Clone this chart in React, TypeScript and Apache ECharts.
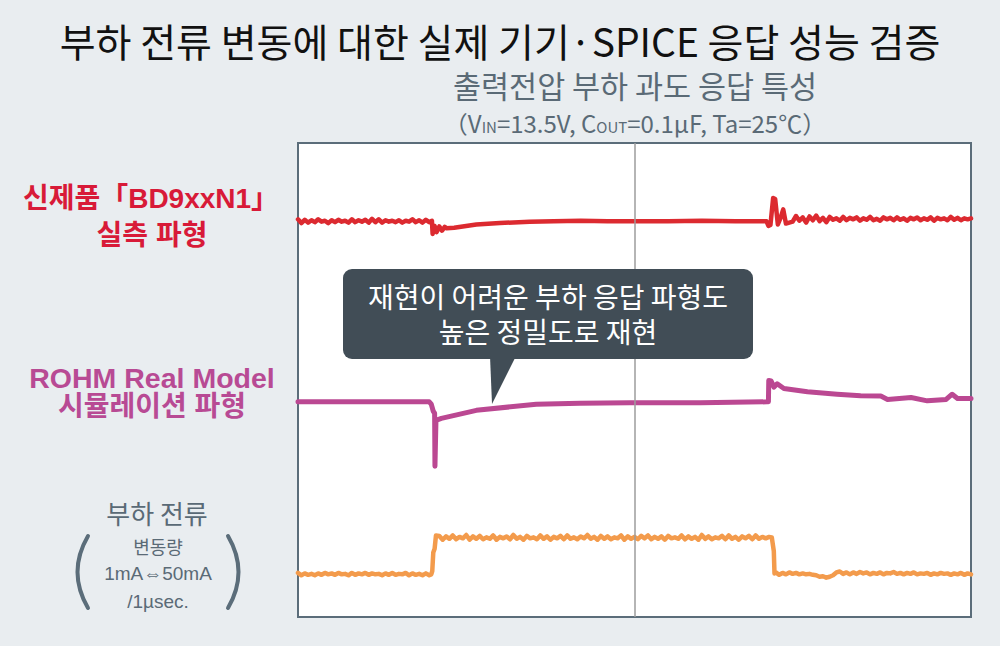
import React, { useEffect, useRef } from "react";
import * as echarts from "echarts";

// ---- Data (time axis 0..100 across the screen, level axis 0..100) ----
const STEP = 0.5;

// Red: measured waveform of new product
const redPreStart = 0;
const redPre = [
  83.9, 83.1, 83.8, 83.2, 83.7, 83.3, 83.9, 83.4, 83.6, 83.1,
  83.7, 83.3, 83.8, 83.4, 83.6, 83.2, 83.9, 83.3, 83.7, 83.4,
  83.8, 83.2, 84.0, 83.3, 83.9, 83.2, 83.7, 83.4, 83.6, 83.3,
  83.7, 83.2, 83.6, 83.4, 83.9, 83.3, 83.7, 83.2, 83.8, 83.3,
];
const redMid: [number, number][] = [
  [19.9, 83.6], [20.0, 80.8], [20.3, 82.5], [20.6, 81.2], [21.0, 82.4], [21.4, 81.5],
  [21.8, 82.3], [22.1, 82.0], [23.2, 82.1], [26.5, 82.8], [30.0, 83.1], [34.4, 83.4],
  [38, 83.5], [42, 83.6], [46, 83.5], [50, 83.5], [55, 83.5], [60, 83.6], [65, 83.5],
  [69.6, 83.5], [69.9, 82.5], [70.2, 82.7], [70.6, 88.4], [70.9, 88.2], [71.3, 82.8],
  [71.7, 84.2], [72.1, 86.0], [72.5, 83.0], [73.0, 83.2],
];
const redPostStart = 73.5;
const redPost = [
  83.4, 84.6, 83.6, 84.3, 83.2, 84.5, 83.7, 84.7, 83.5, 84.2,
  83.3, 84.4, 83.8, 84.1, 83.6, 84.4, 83.7, 84.2, 83.9, 84.3,
  83.6, 84.1, 83.8, 84.4, 83.7, 84.0, 83.6, 84.3, 83.9, 84.2,
  83.7, 84.3, 83.8, 84.1, 83.6, 84.2, 83.9, 84.3, 83.7, 84.1,
  83.8, 84.3, 83.6, 84.2, 83.9, 84.1, 83.7, 84.4, 83.8, 84.2,
  83.7, 84.1, 83.9, 84.1,
];

// Magenta: ROHM Real Model simulation
const magenta: [number, number][] = [
  [0, 45.4], [19.5, 45.4], [19.8, 44.9], [20.1, 43.4], [20.3, 43.0], [20.35, 31.8],
  [20.5, 41.5], [21.3, 41.9], [26.5, 43.6], [35.4, 44.9], [41.9, 45.1], [49.3, 45.2],
  [59.8, 45.2], [69.7, 45.4], [69.9, 45.4], [69.95, 49.9], [70.3, 49.8], [70.7, 48.5],
  [71.2, 49.2], [72.2, 48.2], [75.7, 47.5], [80.1, 47.0], [83.6, 46.7], [86.6, 46.6],
  [87.6, 45.9], [91.1, 46.3], [93.5, 45.6], [96.3, 45.9], [97.2, 47.0], [98.0, 46.1],
  [100, 46.1],
];

// Orange: load current
const orangePreStart = 0;
const orangePre = [
  9.3, 8.8, 9.2, 8.9, 9.1, 8.8, 9.2, 8.9, 9.3, 9.0,
  9.2, 8.9, 9.3, 9.0, 9.1, 8.8, 9.3, 8.9, 9.2, 9.0,
  9.3, 8.9, 9.2, 9.0, 9.1, 8.8, 9.2, 8.9, 9.3, 8.9,
  9.1, 9.0, 9.3, 8.8, 9.2, 8.9, 9.1, 8.8, 9.2, 8.8,
];
const orangeRise: [number, number][] = [
  [19.8, 9.0], [19.95, 9.7], [20.1, 13.6], [20.3, 14.4], [20.5, 17.2],
];
const orangeHighStart = 21;
const orangeHigh = [
  17.1, 16.3, 17.0, 16.5, 17.2, 16.4, 16.9, 16.6, 17.3, 16.3, 17.0, 16.5, 17.1, 16.4, 16.8,
  16.5, 17.2, 16.3, 16.9, 16.6, 17.0, 16.4, 17.3, 16.5, 16.9, 16.3, 17.1, 16.6, 16.8, 16.4,
  17.2, 16.5, 17.0, 16.3, 16.9, 16.6, 17.1, 16.4, 17.2, 16.5, 16.8, 16.4, 17.0, 16.6, 17.3,
  16.5, 16.9, 16.3, 17.1, 16.5, 17.0, 16.4, 16.8, 16.6, 17.2, 16.3, 17.0, 16.5, 16.9, 16.4,
  17.1, 16.6, 17.2, 16.4, 16.9, 16.5, 17.0, 16.3, 17.1, 16.6, 16.8, 16.5, 17.2, 16.4, 17.0,
  16.5, 16.9, 16.3, 17.3, 16.5, 17.0, 16.4, 16.8, 16.6, 17.1, 16.4, 17.2, 16.5, 16.9, 16.3,
  17.0, 16.6, 17.1, 16.4, 17.2, 16.5, 16.9, 16.6,
];
const orangeFall: [number, number][] = [
  [70.0, 16.9], [70.4, 16.8], [70.7, 13.9], [70.8, 9.2],
];
const orangeLowStart = 71;
const orangeLow = [
  9.4, 8.9, 9.3, 9.0, 9.4, 9.1, 9.3, 9.0, 9.2, 9.0,
  9.1, 8.9, 8.8, 8.5, 8.6, 8.3, 8.5, 8.8, 9.4, 9.6,
  9.1, 9.4, 9.0, 9.4, 9.1, 9.5, 9.2, 9.4, 9.0, 9.3,
  9.1, 9.4, 9.0, 9.3, 9.2, 9.5, 9.1, 9.3, 9.0, 9.3,
  9.1, 9.4, 9.0, 9.2, 9.1, 9.3, 8.9, 9.2, 9.0, 9.3,
  9.1, 9.2, 8.9, 9.2, 9.0, 9.3, 8.9, 9.2, 9.0,
];

const CENTER_TIME = 50;

// ---- Texts ----
const TITLE = "부하 전류 변동에 대한 실제 기기·SPICE 응답 성능 검증";
const SUBTITLE = "출력전압 부하 과도 응답 특성";
const CONDITIONS = "（V{sub|IN}=13.5V, C{sub|OUT}=0.1µF, Ta=25℃）";
const RED_LABEL = ["신제품「BD9xxN1」", "실측 파형"];
const MAGENTA_LABEL = ["ROHM Real Model", "시뮬레이션 파형"];
const LOAD_LABEL = ["부하 전류", "변동량", "1mA⇔50mA", "/1µsec."];
const CALLOUT = ["재현이 어려운 부하 응답 파형도", "높은 정밀도로 재현"];

const sampled = (start: number, vals: number[]): [number, number][] =>
  vals.map((v, i) => [start + i * STEP, v]);

const COLORS = {
  bg: "#e9edf0",
  frame: "#5b6d7a",
  red: "#dc2a30",
  redText: "#d81a38",
  magenta: "#bb4892",
  magentaText: "#b84a94",
  orange: "#f39b4c",
  gray: "#5a6a76",
  callout: "#414d56",
};

const KR = "'Noto Sans CJK KR', 'Noto Sans', sans-serif";
const LAT = "'Liberation Sans', 'Noto Sans CJK KR', sans-serif";

export default function App() {
  const ref = useRef<HTMLDivElement>(null);
  useEffect(() => {
    document.body.style.margin = "0";
    if (!ref.current) return;
    const chart = echarts.init(ref.current, null, { renderer: "svg" });

    const redData = [...sampled(redPreStart, redPre), ...redMid, ...sampled(redPostStart, redPost)];
    const orangeData = [
      ...sampled(orangePreStart, orangePre),
      ...orangeRise,
      ...sampled(orangeHighStart, orangeHigh),
      ...orangeFall,
      ...sampled(orangeLowStart, orangeLow),
    ];

    const lineSeries = (name: string, data: [number, number][], color: string, width: number) => ({
      name,
      type: "line",
      data,
      showSymbol: false,
      symbol: "none",
      z: 3,
      lineStyle: { color, width, join: "round", cap: "round" },
    });

    const txt = (
      text: string,
      x: number,
      y: number,
      size: number,
      color: string,
      family: string,
      weight: string | number = "normal",
      extra: any = {}
    ) => ({
      type: "text",
      x,
      y,
      z: 20,
      style: {
        text,
        fill: color,
        font: `${weight} ${size}px ${family}`,
        lineHeight: Math.round(size),
        textAlign: "center",
        textVerticalAlign: "middle",
        ...extra,
      },
    });

    chart.setOption({
      animation: false,
      backgroundColor: COLORS.bg,
      grid: {
        left: 298,
        top: 143,
        width: 673,
        height: 474,
        show: true,
        backgroundColor: "#ffffff",
        borderColor: COLORS.frame,
        borderWidth: 2,
      },
      xAxis: { type: "value", min: 0, max: 100, show: false },
      yAxis: { type: "value", min: 0, max: 100, show: false },
      series: [
        {
          type: "line",
          data: [],
          z: 1,
          markLine: {
            silent: true,
            symbol: "none",
            label: { show: false },
            lineStyle: { color: "#9c9c9c", width: 1.5, type: "solid" },
            data: [{ xAxis: CENTER_TIME }],
          },
        },
        lineSeries("orange", orangeData, COLORS.orange, 4.5),
        lineSeries("magenta", magenta, COLORS.magenta, 5),
        lineSeries("red", redData, COLORS.red, 4.5),
      ],
      graphic: [
        txt(TITLE, 500, 40, 39, "#111111", KR),
        txt(SUBTITLE, 635, 85, 30.5, COLORS.gray, KR),
        {
          type: "text",
          x: 635,
          y: 122,
          z: 20,
          style: {
            text: CONDITIONS,
            fill: COLORS.gray,
            font: `normal 24px ${KR}`,
            lineHeight: 24,
            textAlign: "center",
            textVerticalAlign: "middle",
            rich: {
              sub: { fontSize: 15, fontFamily: KR, fill: COLORS.gray, verticalAlign: "bottom", lineHeight: 16 },
            },
          },
        },
        txt(RED_LABEL[0], 151, 198, 28, COLORS.redText, LAT, "bold"),
        txt(RED_LABEL[1], 152, 235, 28, COLORS.redText, LAT, "bold"),
        txt(MAGENTA_LABEL[0], 152, 378, 28.5, COLORS.magentaText, LAT, "bold", { lineHeight: 27 }),
        txt(MAGENTA_LABEL[1], 152, 406, 28, COLORS.magentaText, LAT, "bold", { lineHeight: 27 }),
        txt(LOAD_LABEL[0], 157, 512, 26, COLORS.gray, KR),
        txt(LOAD_LABEL[1], 158, 546, 18, COLORS.gray, KR),
        txt(LOAD_LABEL[2], 158, 573, 19, COLORS.gray, LAT),
        txt(LOAD_LABEL[3], 158, 601, 19, COLORS.gray, LAT),
        {
          type: "bezierCurve",
          z: 20,
          shape: { x1: 88, y1: 536, x2: 88, y2: 608, cpx1: 67, cpy1: 572 },
          style: { stroke: COLORS.frame, lineWidth: 4, fill: "none", lineCap: "round" },
        },
        {
          type: "bezierCurve",
          z: 20,
          shape: { x1: 228, y1: 536, x2: 228, y2: 608, cpx1: 249, cpy1: 572 },
          style: { stroke: COLORS.frame, lineWidth: 4, fill: "none", lineCap: "round" },
        },
        {
          type: "rect",
          z: 30,
          shape: { x: 343, y: 269, width: 410, height: 90, r: 9 },
          style: { fill: COLORS.callout },
        },
        {
          type: "polygon",
          z: 30,
          shape: { points: [[490, 356], [516, 356], [492, 404]] },
          style: { fill: COLORS.callout },
        },
        { ...txt(CALLOUT[0], 548, 296, 28, "#ffffff", KR, "normal", { lineHeight: 30 }), z: 31 },
        { ...txt(CALLOUT[1], 548, 331, 28, "#ffffff", KR, "normal", { lineHeight: 30 }), z: 31 },
      ],
    });
    return () => chart.dispose();
  }, []);
  return <div ref={ref} style={{ width: 1000, height: 646 }} />;
}
